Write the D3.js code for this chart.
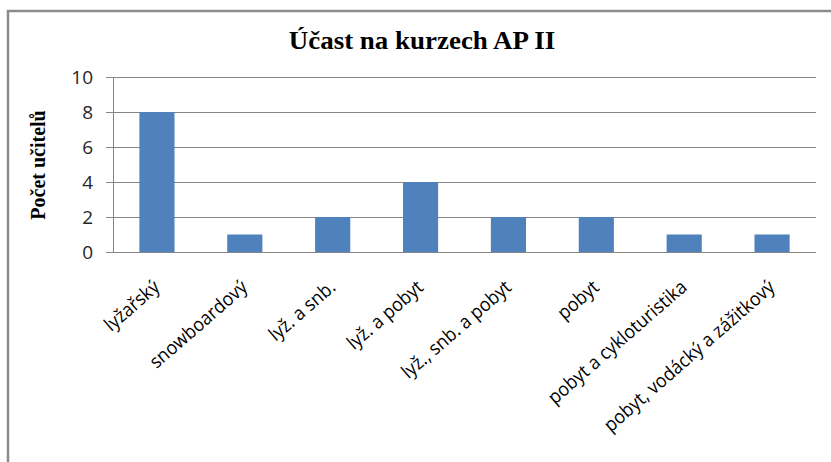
<!DOCTYPE html>
<html>
<head>
<meta charset="utf-8">
<script src="https://cdn.jsdelivr.net/npm/d3@7"></script>
<style>
  body { margin: 0; background: #fff; }
  svg { display: block; }
</style>
</head>
<body>
<div id="chart"></div>
<script>
var categories = ["lyžařský", "snowboardový", "lyž. a snb.", "lyž. a pobyt",
    "lyž., snb. a pobyt", "pobyt", "pobyt a cykloturistika", "pobyt, vodácký a zážitkový"];
var values = [8, 1, 2, 4, 2, 2, 1, 1];
var yTicks = [0, 2, 4, 6, 8, 10];

var width = 831;
var height = 462;
var margin = {top: 77, right: 15, bottom: 210, left: 113};

var svg = d3.select("#chart").append("svg")
    .attr("width", width)
    .attr("height", height);

// chart frame (only left and top edges are visible in the crop)
svg.append("path")
    .attr("d", "M8," + height + "V11H" + width)
    .attr("fill", "none")
    .attr("stroke", "#8c8c8c")
    .attr("stroke-width", 2.5);

var x = d3.scaleBand()
    .domain(categories)
    .range([margin.left, width - margin.right])
    .paddingInner(0.6)
    .paddingOuter(0.3);

var y = d3.scaleLinear()
    .domain([0, 10])
    .range([height - margin.bottom, margin.top]);

// gridlines + y ticks
var yAxis = svg.append("g")
    .attr("transform", "translate(" + margin.left + ",0)")
    .call(d3.axisLeft(y).tickValues(yTicks).tickSize(7).tickPadding(13)
        .tickFormat(d3.format("d")));
yAxis.select(".domain").attr("stroke", "#868686");
yAxis.selectAll(".tick line").attr("stroke", "#868686");
yAxis.selectAll(".tick text")
    .attr("fill", "#262626")
    .style("font-family", "'Open Sans', sans-serif")
    .style("font-size", "19px");

svg.append("g")
    .selectAll("line")
    .data(yTicks.filter(function(d) { return d > 0; }))
    .join("line")
    .attr("x1", margin.left)
    .attr("x2", width - margin.right)
    .attr("y1", function(d) { return y(d) + 0.5; })
    .attr("y2", function(d) { return y(d) + 0.5; })
    .attr("stroke", "#868686");

// bars
svg.append("g")
    .selectAll("rect")
    .data(values)
    .join("rect")
    .attr("x", function(d, i) { return x(categories[i]); })
    .attr("y", function(d) { return y(d); })
    .attr("width", x.bandwidth())
    .attr("height", function(d) { return y(0) - y(d); })
    .attr("fill", "#4f81bd");

// baseline
svg.append("line")
    .attr("x1", margin.left - 7)
    .attr("x2", width - margin.right)
    .attr("y1", y(0) + 0.5)
    .attr("y2", y(0) + 0.5)
    .attr("stroke", "#868686");

// x labels, rotated (source image is a bit squeezed sideways, hence 41deg + scale)
svg.append("g")
    .selectAll("text")
    .data(categories)
    .join("text")
    .attr("transform", function(d) {
        var cx = x(d) + x.bandwidth() / 2 + 4;
        return "translate(" + cx + "," + (y(0) + 37) + ") rotate(-41) scale(0.94,1)";
    })
    .attr("text-anchor", "end")
    .attr("fill", "#000")
    .style("font-family", "'Open Sans', sans-serif")
    .style("font-size", "19px")
    .text(function(d) { return d; });

// title
svg.append("text")
    .attr("transform", "translate(422,49) scale(1.1,1)")
    .attr("text-anchor", "middle")
    .style("font-family", "'Liberation Serif', 'Times New Roman', serif")
    .style("font-weight", "bold")
    .style("font-size", "24.5px")
    .text("Účast na kurzech AP II");

// y axis title
svg.append("text")
    .attr("transform", "translate(45,165) rotate(-90)")
    .attr("text-anchor", "middle")
    .style("font-family", "'Liberation Serif', 'Times New Roman', serif")
    .style("font-weight", "bold")
    .style("font-size", "20px")
    .text("Počet učitelů");
</script>
</body>
</html>
